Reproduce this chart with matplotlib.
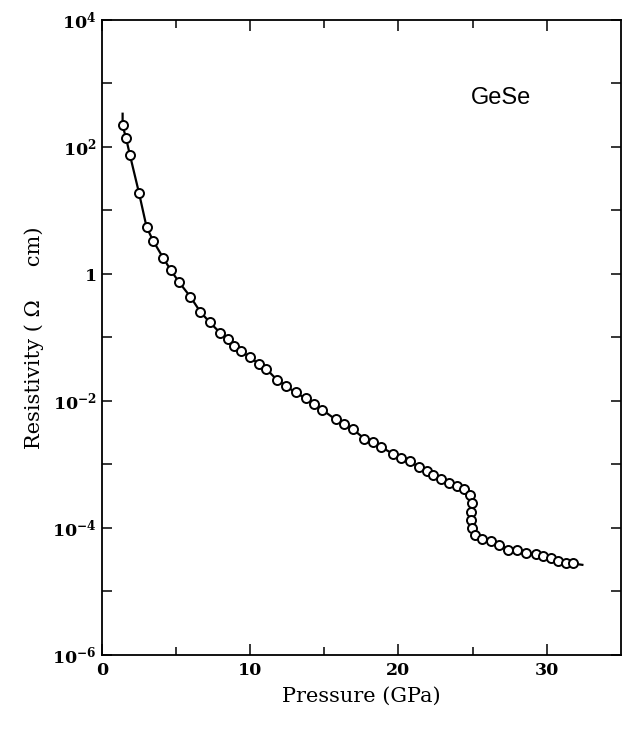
import numpy as np
import matplotlib.pyplot as plt
from matplotlib.ticker import FixedLocator, NullFormatter

plt.rcParams['mathtext.fontset'] = 'dejavuserif'

# measured points (pressure in GPa, resistivity in ohm cm)
pressure = [1.39, 1.62, 1.89, 2.49, 3.01, 3.45, 4.13, 4.65, 5.21, 5.96,
            6.63, 7.27, 7.99, 8.51, 8.91, 9.41, 9.97, 10.59, 11.09, 11.80,
            12.39, 13.06, 13.74, 14.28, 14.86, 15.76, 16.36, 16.92, 17.71, 18.27,
            18.84, 19.62, 20.18, 20.79, 21.37, 21.91, 22.36, 22.88, 23.39, 23.97,
            24.41, 24.80, 24.94, 24.90, 24.90, 24.98, 25.15, 25.64, 26.24, 26.80,
            27.42, 27.97, 28.64, 29.26, 29.74, 30.28, 30.79, 31.31, 31.76]
resistivity = [216, 137, 73, 19, 5.4, 3.3, 1.77, 1.13, 0.73, 0.435,
               0.252, 0.172, 0.116, 0.0937, 0.0716, 0.0597, 0.0488, 0.0378, 0.0316, 0.0214,
               0.0172, 0.0135, 0.0109, 0.00887, 0.00721, 0.00508, 0.00430, 0.00358, 0.00252, 0.00224,
               0.00187, 0.00146, 0.00125, 0.00111, 9.04e-4, 7.98e-4, 6.84e-4, 5.85e-4, 5.06e-4, 4.51e-4,
               4.11e-4, 3.27e-4, 2.48e-4, 1.79e-4, 1.31e-4, 9.93e-5, 7.76e-5, 6.78e-5, 6.18e-5, 5.35e-5,
               4.55e-5, 4.46e-5, 4.04e-5, 3.90e-5, 3.58e-5, 3.29e-5, 3.00e-5, 2.81e-5, 2.74e-5]

# ends of the drawn curve, beyond the first and last points
curve_start = (1.39, 331)
curve_end = (32.41, 2.61e-5)

xticks = [0, 10, 20, 30]
xminor = [5, 15, 25]
yticks = [1e-6, 1e-4, 1e-2, 1, 1e2, 1e4]
yticklabels = [r'$\mathbf{10^{-6}}$', r'$\mathbf{10^{-4}}$', r'$\mathbf{10^{-2}}$',
               r'$\mathbf{1}$', r'$\mathbf{10^{2}}$', r'$\mathbf{10^{4}}$']
yminor = [1e-5, 1e-3, 1e-1, 1e1, 1e3]

fig = plt.figure(figsize=(6.22, 7.30), dpi=100)
ax = fig.add_axes([0.164, 0.103, 0.834, 0.870])

curve_p = [curve_start[0]] + pressure + [curve_end[0]]
curve_r = [curve_start[1]] + resistivity + [curve_end[1]]
ax.plot(curve_p, curve_r, color='black', lw=1.6, zorder=2)
ax.plot(pressure, resistivity, 'o', ms=6.5, mfc='white', mec='black', mew=1.4, zorder=3)

ax.set_yscale('log')
ax.set_xlim(0, 35)
ax.set_ylim(1e-6, 1e4)

ax.set_xticks(xticks)
ax.set_xticklabels([str(t) for t in xticks], fontfamily='DejaVu Serif', fontweight='bold', fontsize=12.5)
ax.xaxis.set_minor_locator(FixedLocator(xminor))
ax.set_yticks(yticks)
ax.set_yticklabels(yticklabels, fontsize=12.5)
ax.yaxis.set_minor_locator(FixedLocator(yminor))
ax.yaxis.set_minor_formatter(NullFormatter())

ax.tick_params(which='both', direction='in', top=True, right=True, width=1.1)
ax.tick_params(axis='x', which='major', length=8, pad=5)
ax.tick_params(axis='x', which='minor', length=6)
ax.tick_params(axis='y', which='both', length=7, pad=4)
for s in ax.spines.values():
    s.set_linewidth(1.3)

ax.set_xlabel('Pressure (GPa)', fontfamily='DejaVu Serif', fontsize=15, labelpad=6)
ax.set_ylabel('Resistivity ( \u03a9     cm)', fontfamily='DejaVu Serif', fontsize=15, labelpad=6)

ax.text(24.9, 475, 'GeSe', fontfamily='Liberation Sans', fontsize=17, ha='left', va='baseline')

fig.savefig('out.png', dpi=100)
